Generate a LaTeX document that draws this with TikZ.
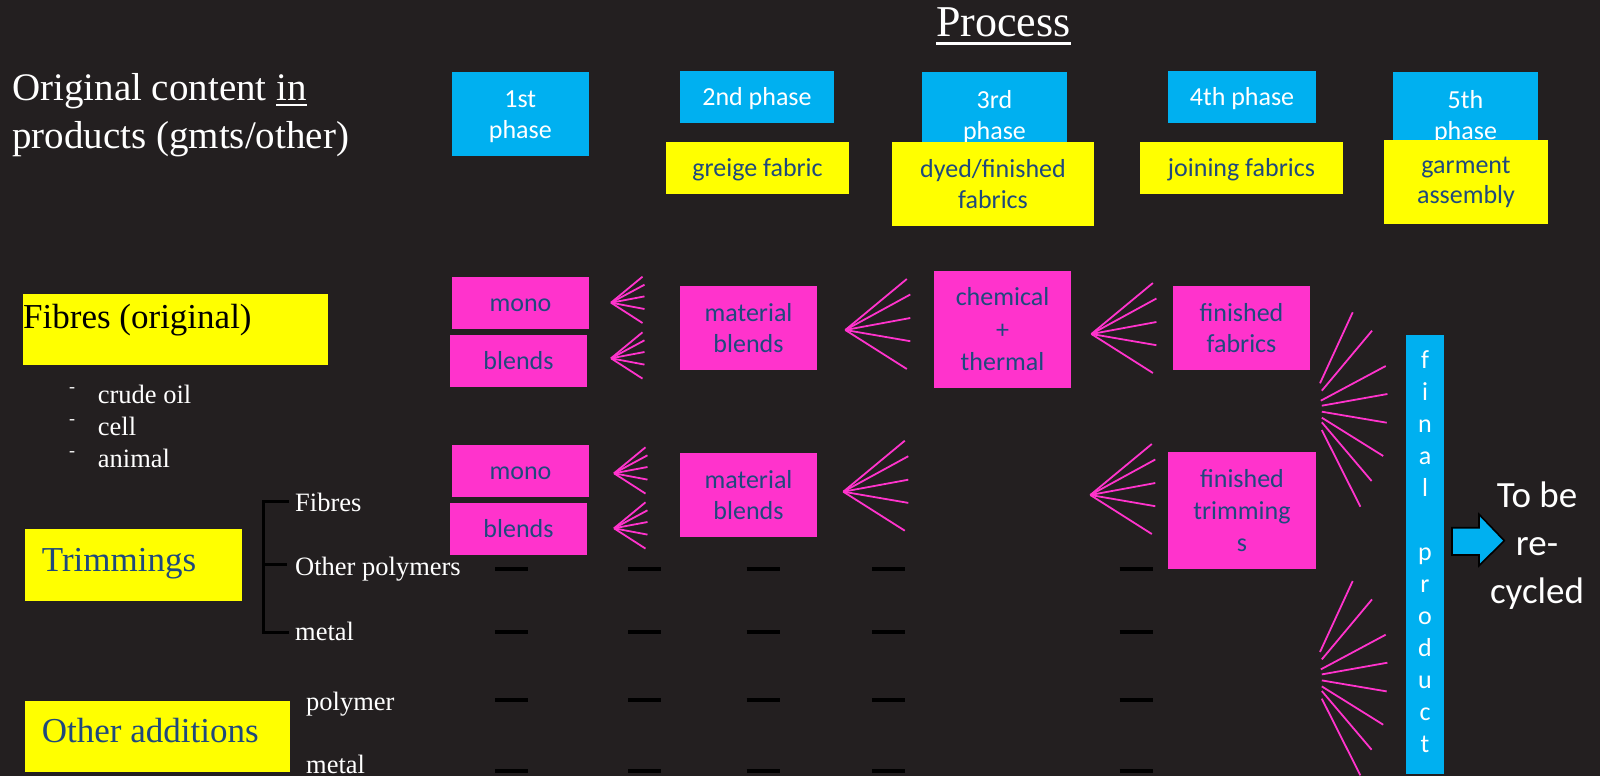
\documentclass[tikz,border=0pt]{standalone}
\usepackage{fontspec}
\setmainfont{Liberation Serif}
\newfontfamily\carl{Carlito}
\definecolor{bg}{HTML}{231F20}
\definecolor{cblue}{HTML}{00B0F0}
\definecolor{cyel}{HTML}{FFFF00}
\definecolor{cpink}{HTML}{FF33CC}
\definecolor{ctext}{HTML}{1F497D}
\newcommand\myul[3]{\setbox0\hbox{#1}\rlap{\rule[#2]{\wd0}{#3}}\box0}
\begin{document}
\begin{tikzpicture}[x=1pt,y=-1pt,
  box/.style={rectangle, inner sep=0pt, outer sep=0pt, align=center, font={\carl\fontsize{26}{31}\selectfont}},
  one/.style={text height=20pt, text depth=2.8pt},
  bluebox/.style={box, fill=cblue, text=white},
  yelbox/.style={box, fill=cyel, text=ctext},
  pinkbox/.style={box, fill=cpink, text=ctext},
  lab/.style={inner sep=0pt, anchor=base west, text=white, font={\fontsize{26.5}{31}\selectfont}},
  big/.style={inner sep=0pt, anchor=base west, font={\fontsize{35}{42}\selectfont}},
  fan/.style={draw=cpink, line width=1.8pt},
  blk/.style={draw=black, line width=4pt},
  brk/.style={draw=black, line width=2.7pt}]
\useasboundingbox (0,0) rectangle (1600,776);
\fill[bg] (0,0) rectangle (1600,776);

% titles
\node[inner sep=0pt, anchor=base, text=white, font={\fontsize{44}{50}\selectfont}] (proc) at (1003.5,36.7) {\myul{Process}{-8pt}{2.7pt}};
\node[inner sep=0pt, anchor=base west, text=white, font={\fontsize{39}{48}\selectfont}] (orig1) at (12,100) {Original content \myul{in}{-6pt}{2pt}};
\node[inner sep=0pt, anchor=base west, text=white, font={\fontsize{39}{48}\selectfont}] (orig2) at (12,148) {products (gmts/other)};

% phase boxes
\node[bluebox, minimum width=136.5pt, minimum height=83.7pt] (ph1) at (520.3,113.9) {};
\node[box, text=white] (ph1t) at (520.3,116.9) {1st\\phase};
\node[bluebox, one, minimum width=154pt, minimum height=51.7pt] (ph2) at (757,96.9) {2nd phase};
\node[bluebox, minimum width=145pt, minimum height=90pt] (ph3) at (994.5,117) {3rd\\phase};
\node[bluebox, one, minimum width=148pt, minimum height=51.7pt] (ph4) at (1242,96.9) {4th phase};
\node[bluebox, minimum width=145pt, minimum height=90pt] (ph5) at (1465.5,117) {5th\\phase};

\node[yelbox, one, minimum width=183pt, minimum height=51.7pt] (y2) at (757.5,167.9) {greige fabric};
\node[yelbox, minimum width=202pt, minimum height=83.7pt] (y3) at (993,183.9) {dyed/finished\\fabrics};
\node[yelbox, one, minimum width=203pt, minimum height=51.7pt] (y4) at (1241.5,167.9) {joining fabrics};
\node[yelbox, minimum width=164pt, minimum height=84pt, font={\carl\fontsize{26}{30}\selectfont}] (y5) at (1466,182) {garment\\assembly};

% pink boxes
\node[pinkbox, one, minimum width=137pt, minimum height=52pt] (mono1) at (520.5,303) {mono};
\node[pinkbox, one, minimum width=137pt, minimum height=51.7pt] (bl1) at (518.5,360.9) {blends};
\node[pinkbox, minimum width=137pt, minimum height=83.7pt] (mat1) at (748.5,327.9) {material\\blends};
\node[pinkbox, minimum width=137pt, minimum height=116.7pt, font={\carl\fontsize{26}{32.5}\selectfont}] (chem) at (1002.5,329.4) {chemical\\+\\thermal};
\node[pinkbox, minimum width=137pt, minimum height=83.7pt] (ff) at (1241.5,327.9) {finished\\fabrics};
\node[pinkbox, one, minimum width=137pt, minimum height=52pt] (mono2) at (520.5,471) {mono};
\node[pinkbox, one, minimum width=137pt, minimum height=51.7pt] (bl2) at (518.5,528.9) {blends};
\node[pinkbox, minimum width=137pt, minimum height=83.7pt] (mat2) at (748.5,494.9) {material\\blends};
\node[pinkbox, minimum width=148pt, minimum height=117pt, font={\carl\fontsize{26}{32}\selectfont}] (ft) at (1242,510.5) {finished\\trimming\\s};

% fans
\coordinate (sf1) at (611,302.7);
\coordinate (sf2) at (611,358.3);
\coordinate (sf3) at (614,473.3);
\coordinate (sf4) at (614,528.3);
\foreach \c in {sf1,sf2,sf3,sf4}
  \foreach \dx/\dy in {31.5/-26,33.5/-18,33.5/-6.3,33.5/6.3,31.5/20.3}
    \draw[fan] (\c) -- ++(\dx,\dy);
\coordinate (bf1) at (845.3,330);
\coordinate (bf2) at (843.3,491.7);
\coordinate (bfa) at (1091.4,334);
\coordinate (bfb) at (1090.3,495);
\foreach \c in {bf1,bf2,bfa,bfb}
  \foreach \dx/\dy in {61.5/-51,65/-35.5,65/-12,65/11.2,61.5/39}
    \draw[fan] (\c) -- ++(\dx,\dy);
\coordinate (fc) at (1321,405);
\coordinate (fd) at (1321,673.7);
\foreach \c in {fc,fd}
  \foreach \sx/\sy/\ex/\ey in {-1/-21.7/32.7/-71, 0.8/-14.3/50.2/-60, -0.2/-4.3/64.9/-34.7, 0.8/0.7/65.6/-11.7, 0.8/6.7/64.9/11, 0.8/12.7/61.4/38.3, 0.8/17.3/49.8/58.7, 0.8/25/38.6/76.7}
    \draw[fan] (\c) ++(\sx,\sy) -- ++(\ex,\ey);

% final product bar
\node[rectangle, fill=cblue, inner sep=0pt, minimum width=38pt, minimum height=439pt] (fin) at (1425,554.5) {};
\foreach \ch [count=\i] in {f,i,n,a,l,{},p,r,o,d,u,c,t}
  \node[inner sep=0pt, anchor=base, text=white, font={\carl\fontsize{26}{31}\selectfont}] (fl\i) at (1425,{368+32*(\i-1)}) {\ch};

% arrow
\draw[fill=cblue, draw=black, line width=1.6pt, line join=miter]
  (1452,527.7) -- (1479,527.7) -- (1479,514.3) -- (1504.3,540.7) -- (1479,565.7) -- (1479,555) -- (1452,555) -- cycle;
\node[inner sep=0pt, anchor=base, text=white, font={\carl\fontsize{37}{48}\selectfont}] (tb1) at (1537,507) {To be};
\node[inner sep=0pt, anchor=base, text=white, font={\carl\fontsize{37}{48}\selectfont}] (tb2) at (1537,555) {re-};
\node[inner sep=0pt, anchor=base, text=white, font={\carl\fontsize{37}{48}\selectfont}] (tb3) at (1537,603) {cycled};

% left side
\node[rectangle, fill=cyel, inner sep=0pt, minimum width=305pt, minimum height=71.4pt, anchor=north west] (fibbox) at (23,293.3) {};
\node[big, text=black] (fibtxt) at (23,328.3) {Fibres (original)};
\node[inner sep=0pt, anchor=base west, text=white, font={\fontsize{18}{20}\selectfont}] (d1) at (69,392.5) {-};
\node[inner sep=0pt, anchor=base west, text=white, font={\fontsize{18}{20}\selectfont}] (d2) at (69,424.5) {-};
\node[inner sep=0pt, anchor=base west, text=white, font={\fontsize{18}{20}\selectfont}] (d3) at (69,456.5) {-};
\node[lab] (crude) at (97.7,403) {crude oil};
\node[lab] (cell) at (97.7,435) {cell};
\node[lab] (animal) at (97.7,467) {animal};

\node[rectangle, fill=cyel, inner sep=0pt, minimum width=216.7pt, minimum height=71.7pt, anchor=north west] (trbox) at (25,529) {};
\node[big, text=ctext] (trtxt) at (41.7,571.7) {Trimmings};
\node[rectangle, fill=cyel, inner sep=0pt, minimum width=264.7pt, minimum height=71pt, anchor=north west] (oabox) at (25,700.3) {};
\node[big, text=ctext] (oatxt) at (41.7,742.7) {Other additions};

\coordinate (bt) at (263.3,501.7);
\coordinate (bm) at (263.3,564.3);
\coordinate (bb) at (263.3,632.3);
\draw[brk, line cap=rect] (bt) ++(24,0) -- (bt) -- (bb) -- ++(24,0);
\draw[brk] (bm) -- ++(24,0);
\node[lab] (tfib) at (295,511.7) {Fibres};
\node[lab] (tpol) at (295,575.7) {Other polymers};
\node[lab] (tmet) at (295,640) {metal};
\node[lab] (opol) at (306,710) {polymer};
\node[lab] (omet) at (306,773.3) {metal};

% black dashes
\foreach \yy in {569.3,632.3,700,770.7}
  \foreach \xa in {495.4,628,746.7,872,1119.7}
    \draw[blk] (\xa,\yy) -- ++(33,0);
\end{tikzpicture}
\end{document}
